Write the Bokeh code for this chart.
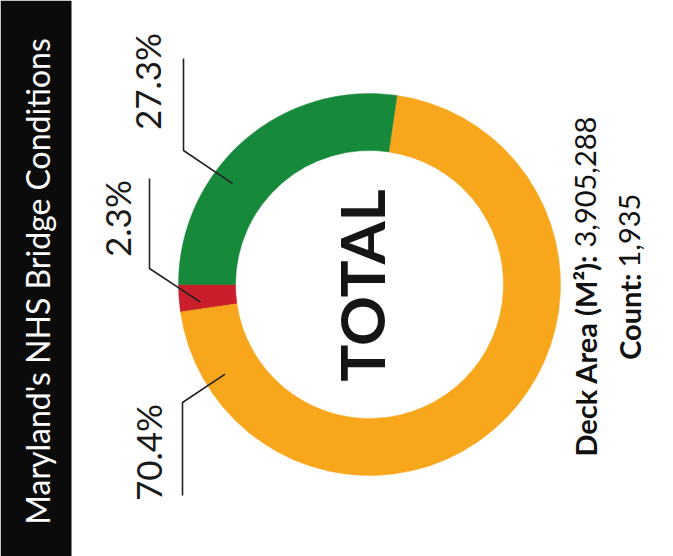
import numpy as np
from bokeh.plotting import figure
from bokeh.models import Range1d
from bokeh.core.properties import value
from bokeh.embed import file_html
from bokeh.resources import INLINE

# ---------------- data ----------------
categories = ["Poor", "Fair", "Good"]
shares = [2.3, 70.4, 27.3]
pct_labels = ["2.3%", "70.4%", "27.3%"]
title_text = "Maryland's NHS Bridge Conditions"
center_text = "TOTAL"
deck_area_label = "Deck Area (M²):"
deck_area_value = "3,905,288"
count_label = "Count:"
count_value = "1,935"

# ---------------- styles / layout ----------------
colors = ["#c81f2b", "#f8a61c", "#17893a"]
W, H = 673, 556
FONT = value("Lato")


def Y(yi):
    """image-space y (down) -> data y (up)"""
    return H - yi


CX, CY = 369, Y(284)
R_OUT, R_IN = 191, 134

# leader layout: fraction within slice for the tip, tip radius, elbow, vertical end
leader_frac = [0.72, 0.093, 0.63]
leader_r = 170
elbow_x = [149, 182, 183]
elbow_y = [268, 402, 150]
vert_end_y = [178, 495, 58]
label_x = [116, 147, 146]
label_y = [218, 452, 81]

p = figure(width=W, height=H, x_range=Range1d(0, W), y_range=Range1d(0, H),
           toolbar_location=None, output_backend="svg", min_border=0,
           x_axis_type=None, y_axis_type=None, outline_line_color=None,
           background_fill_color="white", border_fill_color="white")
p.grid.visible = False

# black title band
p.quad(left=0, right=71, bottom=Y(556), top=Y(0), color="#0b0b0b", line_color=None)
p.text(x=[37], y=[Y(281)], text=[title_text], angle=np.pi / 2,
       text_align="center", text_baseline="alphabetic", text_color="white",
       text_font=FONT, text_font_size="32px")

# donut
frac = np.array(shares) / sum(shares)
ends = np.pi + 2 * np.pi * np.cumsum(frac)
starts = ends - 2 * np.pi * frac
p.annular_wedge(x=CX, y=CY, inner_radius=R_IN, outer_radius=R_OUT,
                start_angle=starts, end_angle=ends, fill_color=colors,
                line_color=colors, line_width=0.5)

# leaders
tip_angle = starts + np.array(leader_frac) * (ends - starts)
tip_x = CX + leader_r * np.cos(tip_angle)
tip_y = CY + leader_r * np.sin(tip_angle)
xs = [[tx, ex, ex] for tx, ex in zip(tip_x, elbow_x)]
ys = [[ty, Y(ey), Y(vy)] for ty, ey, vy in zip(tip_y, elbow_y, vert_end_y)]
p.multi_line(xs=xs, ys=ys, line_color="#222222", line_width=1.6)

p.text(x=label_x, y=[Y(v) for v in label_y], text=pct_labels, angle=np.pi / 2,
       text_align="center", text_baseline="alphabetic", text_color="#1a1a1a",
       text_font=FONT, text_font_size="35px")

# center label
p.text(x=[360], y=[Y(285)], text=[center_text], angle=np.pi / 2,
       text_align="center", text_baseline="alphabetic", text_color="#151515",
       text_font=FONT, text_font_style="bold", text_font_size="62px")

# totals
p.text(x=[585, 629], y=[Y(254), Y(273)], text=[deck_area_label, count_label],
       angle=np.pi / 2, text_align="right", text_baseline="alphabetic",
       text_color="#111111", text_font=FONT, text_font_style="bold",
       text_font_size="29px")
p.text(x=[585, 629], y=[Y(247), Y(267)], text=[deck_area_value, count_value],
       angle=np.pi / 2, text_align="left", text_baseline="alphabetic",
       text_color="#111111", text_font=FONT, text_font_size="29px")

open("out.html", "w").write(file_html(p, INLINE))
